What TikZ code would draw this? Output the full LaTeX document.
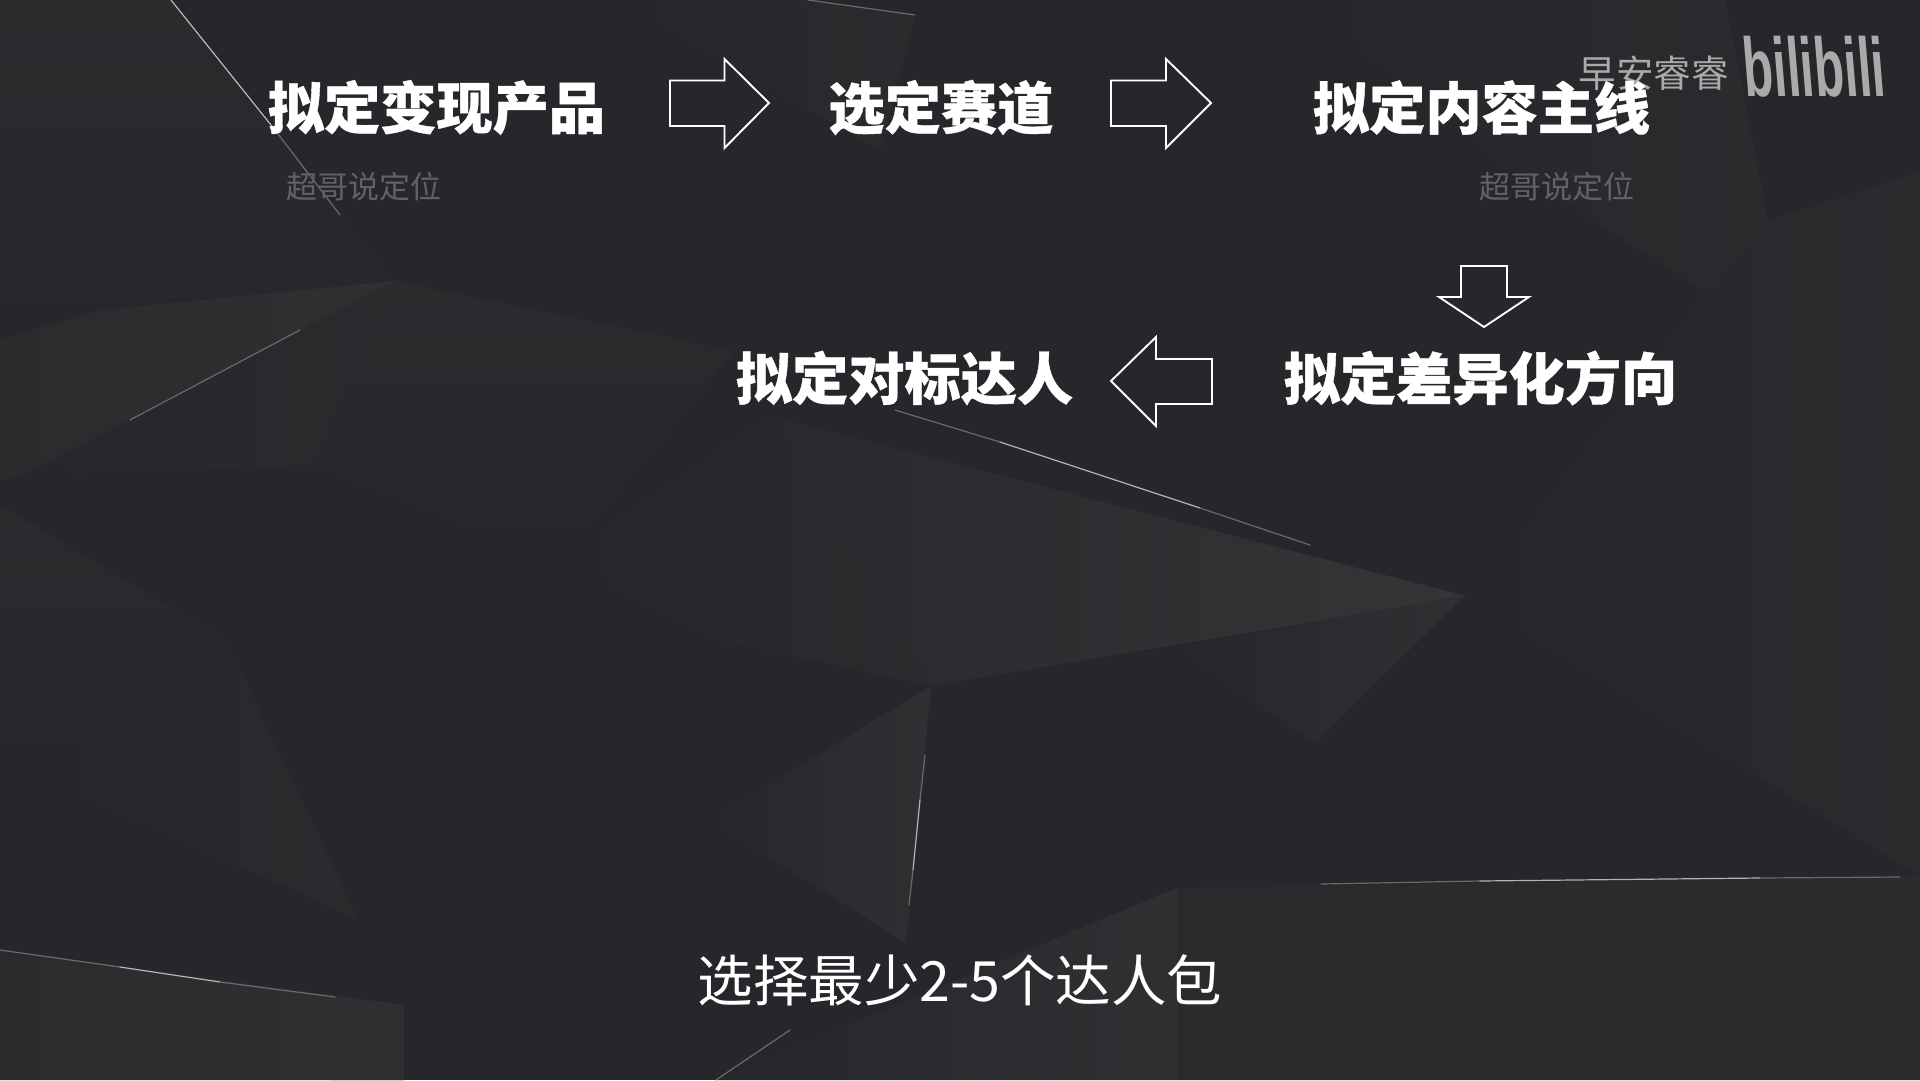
\documentclass[tikz,border=0pt]{standalone}
\usepackage{fontspec}
\newfontfamily\cjk[BoldFeatures={FakeBold=0.7}]{Noto Sans CJK SC}
\newfontfamily\logofont{Liberation Sans}
\definecolor{bgbase}{HTML}{26272B}
\definecolor{facetA}{HTML}{2B2B2E}
\definecolor{facetB}{HTML}{303033}
\definecolor{facetC}{HTML}{353537}
\definecolor{edgemid}{HTML}{6A6A6A}
\definecolor{edgehi}{HTML}{B4B4B4}
\definecolor{dimtext}{HTML}{626264}
\definecolor{marktext}{HTML}{AAAAAA}
\tikzset{
  x=1pt,y=-1pt,
  title/.style={inner sep=0pt,text=white,font={\cjk\bfseries\fontsize{56.2}{60}\selectfont}},
  caption/.style={inner sep=0pt,text=white,font={\cjk\fontsize{55.5}{60}\selectfont}},
  subnote/.style={inner sep=0pt,text=dimtext,font={\cjk\fontsize{31}{34}\selectfont}},
  watermark/.style={inner sep=0pt,text=marktext,font={\cjk\fontsize{37.5}{40}\selectfont}},
  blockarrow/.style={draw=white,line width=1.9pt,fill=none,line join=miter},
  glint/.style={line width=1.2pt,line cap=round}
}
\begin{document}
\begin{tikzpicture}
\useasboundingbox (0,0) rectangle (1920,1080);
\fill[bgbase] (0,0) rectangle (1920,1080);
% low-poly facets
\shade[left color=facetA,right color=bgbase,shading angle=0] (0,0)--(171,0)--(395,281)--(0,340)--cycle;
\shade[left color=facetA,right color=facetB] (0,340)--(100,310)--(395,281)--(24,475)--(0,480)--cycle;
\shade[left color=bgbase,right color=facetA] (24,475)--(395,281)--(312,465)--cycle;
\shade[top color=facetA,bottom color=bgbase] (395,281)--(735,351)--(560,560)--(312,465)--cycle;
\shade[left color=bgbase,right color=facetC] (771,416)--(1466,596)--(931,686)--(640,560)--cycle;
\shade[left color=bgbase,right color=facetA] (560,560)--(771,416)--(931,686)--(720,640)--cycle;
\shade[left color=bgbase,right color=facetB] (1174,647)--(1465,595)--(1315,743)--cycle;
\shade[left color=bgbase,right color=facetB] (931,686)--(710,820)--(906,943)--cycle;
\shade[top color=facetA,bottom color=bgbase] (0,505)--(226,640)--(43,778)--(0,760)--cycle;
\shade[left color=bgbase,right color=facetA] (226,640)--(43,778)--(358,919)--cycle;
\shade[left color=facetA,right color=facetB] (0,950)--(404,1005)--(404,1080)--(0,1080)--cycle;
\fill[facetB] (404,1005)--(330,1080)--(404,1080)--cycle;
\fill[facetA] (1177,888)--(1920,876)--(1920,1080)--(1177,1080)--cycle;
\shade[left color=bgbase,right color=facetB] (716,1080)--(1177,888)--(1177,1080)--cycle;
\shade[left color=bgbase,right color=facetA] (1465,595)--(1517,540)--(1707,293)--(1768,220)--(1920,172)--(1920,876)--cycle;
\shade[left color=bgbase,right color=facetA] (1300,0)--(1725,0)--(1768,220)--(1707,293)--(1500,160)--cycle;
\shade[left color=bgbase,right color=facetA] (620,0)--(808,0)--(915,15)--(880,150)--cycle;
% bright edges
\draw[glint,edgehi] (171,0)--(275,130);
\draw[glint,edgemid] (275,130)--(340,215);
\draw[glint,edgemid] (130,420)--(300,330);
\draw[glint,edgemid] (808,0)--(915,15);
\draw[glint,edgemid] (895,410)--(1000,442);
\draw[glint,edgehi] (1000,442)--(1200,508);
\draw[glint,edgemid] (1200,508)--(1310,545);
\draw[glint,edgemid] (925,755)--(920,800);
\draw[glint,edgehi] (920,800)--(913,870);
\draw[glint,edgemid] (913,870)--(909,905);
\draw[glint,edgemid] (0,950)--(120,967);
\draw[glint,edgehi] (120,967)--(220,982);
\draw[glint,edgemid] (220,982)--(335,997);
\draw[glint,edgemid] (1321,884)--(1480,881);
\draw[glint,edgehi] (1480,881)--(1760,878);
\draw[glint,edgemid] (1760,878)--(1900,877);
\draw[glint,edgemid] (716,1080)--(790,1030);
% watermark
\node[watermark] (wm) at (1653.5,73) {早安睿睿};
\node[inner sep=0pt,text=marktext,font={\logofont\bfseries\fontsize{49}{50}\selectfont},
  yscale=1.7,xslant=-0.14] (logo) at (1814,67) {bilibili};
% titles
\node[title] (t1) at (436.5,107.5) {拟定变现产品};
\node[title] (t2) at (941,107.5) {选定赛道};
\node[title] (t3) at (1481.5,107.5) {拟定内容主线};
\node[title] (t4) at (1480.5,378) {拟定差异化方向};
\node[title] (t5) at (904.5,378) {拟定对标达人};
\node[subnote] (s1) at (364,186.5) {超哥说定位};
\node[subnote] (s2) at (1556.5,186.5) {超哥说定位};
\node[caption] (cap) at (960,980) {选择最少2-5个达人包};
% block arrows
\draw[blockarrow] (670,80.5)--(724.5,80.5)--(724.5,59)--(769,103)--(724.5,148)--(724.5,126)--(670,126)--cycle;
\draw[blockarrow] (1111,80.5)--(1166,80.5)--(1166,59)--(1211,103)--(1166,148)--(1166,126)--(1111,126)--cycle;
\draw[blockarrow] (1461,266)--(1507,266)--(1507,297)--(1529,297)--(1484,327)--(1439,297)--(1461,297)--cycle;
\draw[blockarrow] (1212,359)--(1156,359)--(1156,337)--(1111,381)--(1156,426)--(1156,404)--(1212,404)--cycle;
\end{tikzpicture}
\end{document}
